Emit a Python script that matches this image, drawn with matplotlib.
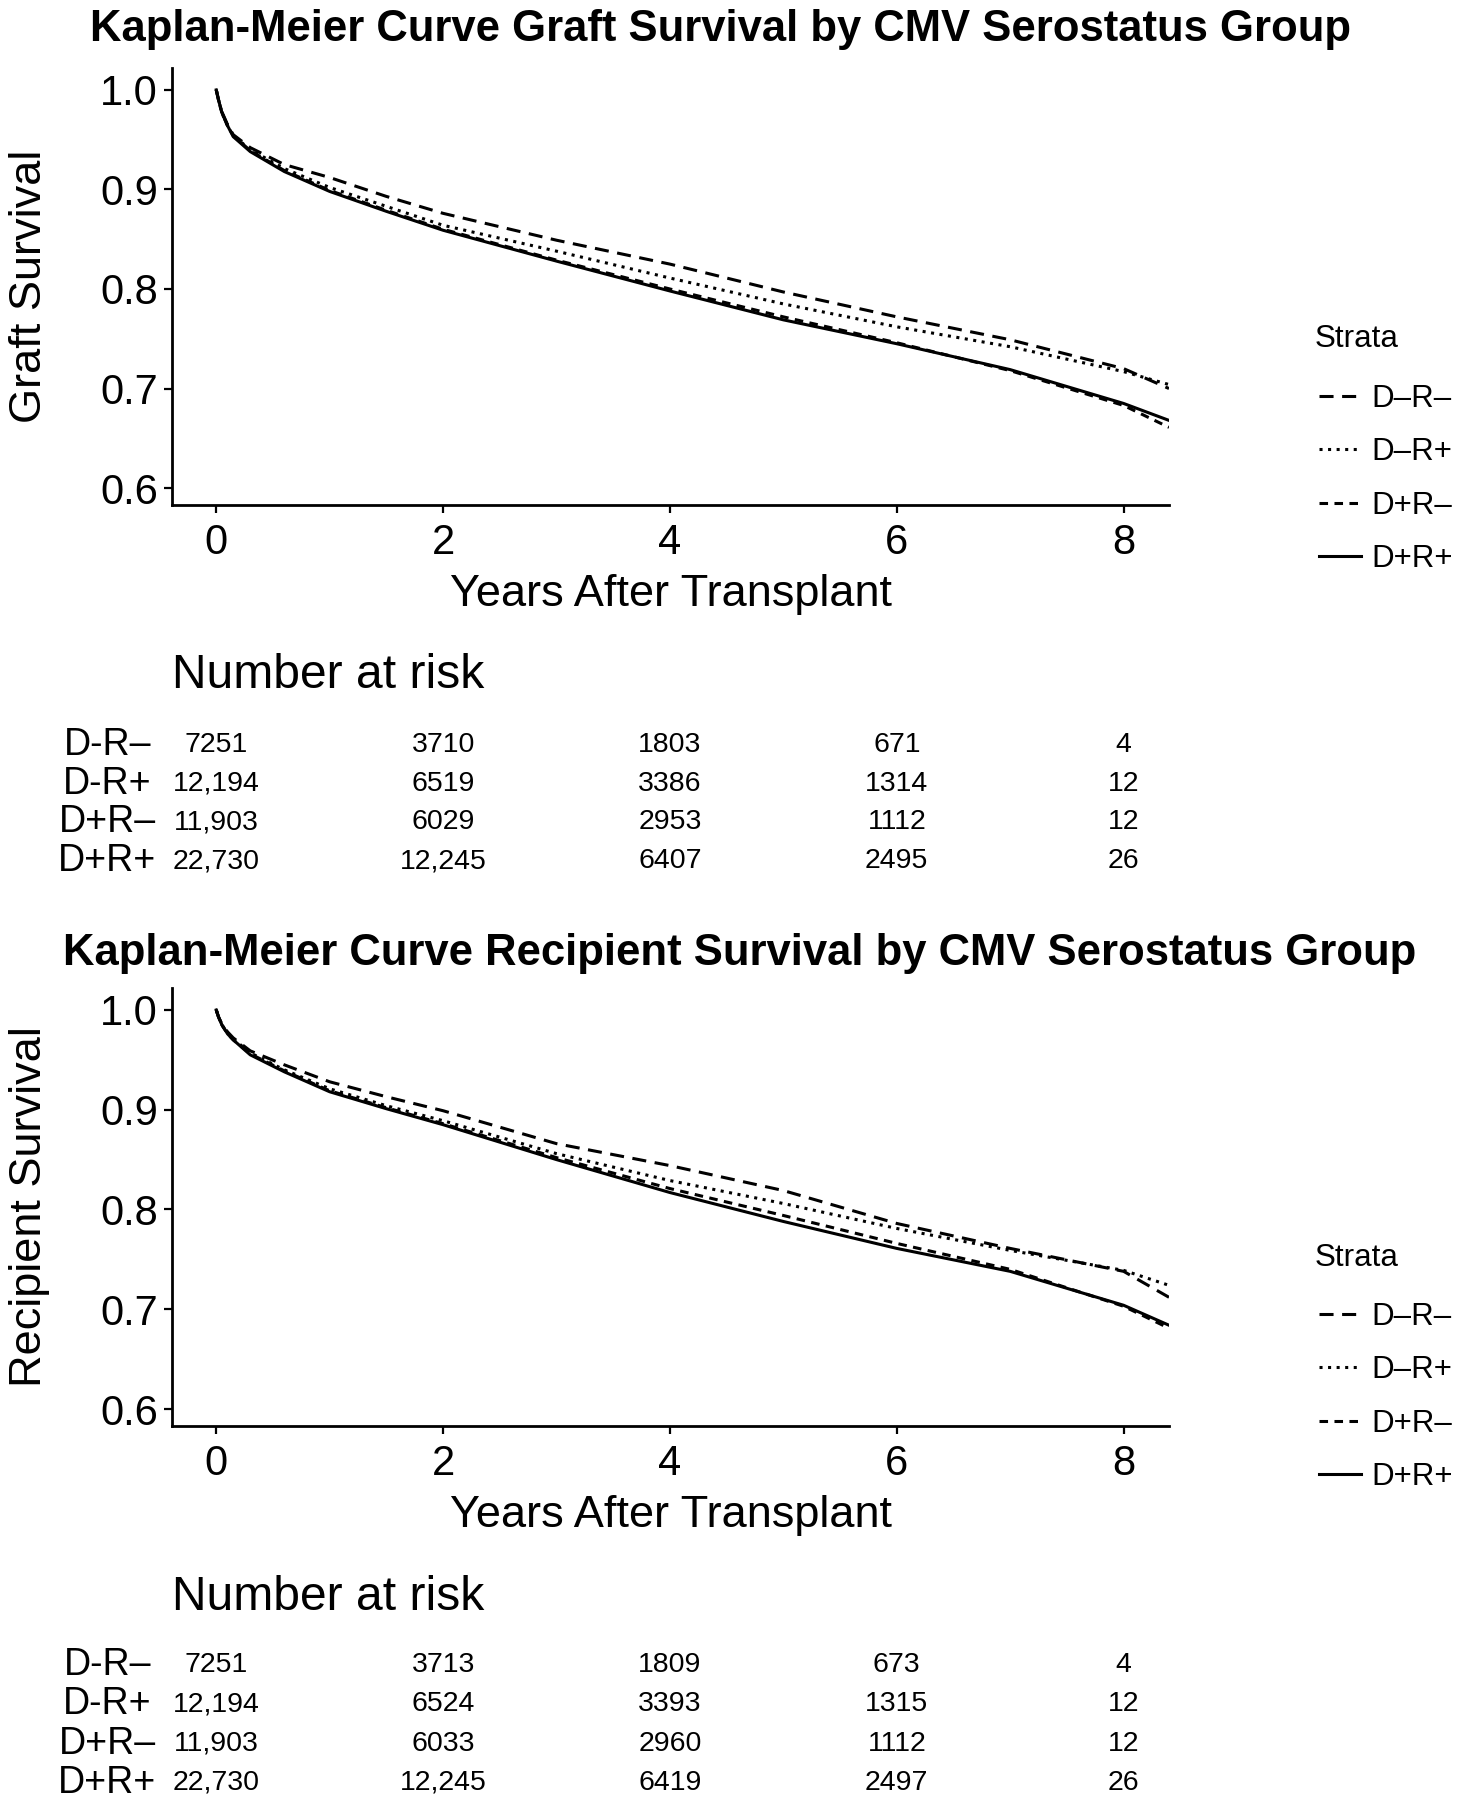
import matplotlib
matplotlib.use("Agg")
import matplotlib.pyplot as plt

REG = ['Liberation Sans', 'DejaVu Sans']
plt.rcParams['font.family'] = REG

# ---------------- data ----------------
strata = ["D–R–", "D–R+", "D+R–", "D+R+"]
table_labels = ["D-R–", "D-R+", "D+R–", "D+R+"]
risk_times = [0, 2, 4, 6, 8]

graft_t = [0, 0.02, 0.05, 0.1, 0.15, 0.3, 0.6, 1.0, 1.5, 2.0, 3.0, 4.0, 5.0, 6.0, 7.0, 8.0, 8.4]
graft_dmrm = [1.0, 0.990, 0.978, 0.965, 0.955, 0.942, 0.925, 0.912, 0.893, 0.876, 0.849, 0.825, 0.797, 0.772, 0.749, 0.720, 0.700]
graft_dmrp = [1.0, 0.990, 0.977, 0.964, 0.954, 0.940, 0.921, 0.902, 0.883, 0.864, 0.838, 0.811, 0.785, 0.762, 0.742, 0.717, 0.704]
graft_dprm = [1.0, 0.990, 0.977, 0.964, 0.954, 0.939, 0.919, 0.899, 0.879, 0.860, 0.829, 0.800, 0.772, 0.746, 0.718, 0.683, 0.661]
graft_dprp = [1.0, 0.990, 0.977, 0.964, 0.953, 0.938, 0.918, 0.898, 0.878, 0.859, 0.828, 0.798, 0.769, 0.745, 0.719, 0.685, 0.668]

recip_t = [0, 0.02, 0.05, 0.1, 0.15, 0.3, 0.6, 1.0, 1.5, 2.0, 3.0, 4.0, 5.0, 6.0, 7.0, 8.0, 8.4]
recip_dmrm = [1.0, 0.993, 0.986, 0.978, 0.972, 0.959, 0.945, 0.928, 0.913, 0.899, 0.866, 0.844, 0.819, 0.786, 0.761, 0.738, 0.712]
recip_dmrp = [1.0, 0.993, 0.985, 0.977, 0.971, 0.957, 0.940, 0.921, 0.904, 0.889, 0.856, 0.829, 0.806, 0.781, 0.759, 0.739, 0.724]
recip_dprm = [1.0, 0.993, 0.985, 0.976, 0.970, 0.956, 0.939, 0.919, 0.902, 0.886, 0.852, 0.821, 0.794, 0.766, 0.740, 0.703, 0.681]
recip_dprp = [1.0, 0.993, 0.985, 0.976, 0.970, 0.955, 0.938, 0.918, 0.901, 0.885, 0.850, 0.817, 0.788, 0.761, 0.738, 0.704, 0.684]

graft_risk_dmrm = ["7251", "3710", "1803", "671", "4"]
graft_risk_dmrp = ["12,194", "6519", "3386", "1314", "12"]
graft_risk_dprm = ["11,903", "6029", "2953", "1112", "12"]
graft_risk_dprp = ["22,730", "12,245", "6407", "2495", "26"]

recip_risk_dmrm = ["7251", "3713", "1809", "673", "4"]
recip_risk_dmrp = ["12,194", "6524", "3393", "1315", "12"]
recip_risk_dprm = ["11,903", "6033", "2960", "1112", "12"]
recip_risk_dprp = ["22,730", "12,245", "6419", "2497", "26"]

yticks = [0.6, 0.7, 0.8, 0.9, 1.0]
xticks = [0, 2, 4, 6, 8]

# ---------------- styles ----------------
LW = 2.2
styles = [
    dict(linestyle=(0, (4.6, 2.8))),
    dict(linestyle=(0, (1.0, 1.8))),
    dict(linestyle=(0, (2.8, 2.1))),
    dict(linestyle='-'),
]

W, H = 1465, 1800
fig = plt.figure(figsize=(W / 100, H / 100), dpi=100)


def fx(px):
    return px / W


def fy(py):
    return 1 - py / H


def make_panel(top_px, bottom_px, t, series, title, title_x, title_y, ylabel,
               ylabel_y, strata_y, legend_mid, risk_rows, risk_title_y, row0, rowstep):
    left, right = 172, 1169
    ax = fig.add_axes([fx(left), fy(bottom_px), fx(right - left), (bottom_px - top_px) / H])
    handles = []
    for s, st, lab in zip(series, styles, strata):
        ln, = ax.plot(t, s, color='black', lw=LW, label=lab, **st)
        handles.append(ln)
    ax.set_xlim(-0.39, 8.40)
    ax.set_ylim(0.583, 1.022)
    ax.set_xticks(xticks)
    ax.set_yticks(yticks)
    ax.set_yticklabels([f"{v:.1f}" for v in yticks])
    for sp in ['top', 'right']:
        ax.spines[sp].set_visible(False)
    for sp in ['left', 'bottom']:
        ax.spines[sp].set_linewidth(2.0)
    ax.tick_params(axis='both', length=6, width=1.6, labelsize=30, colors='black')
    ax.tick_params(axis='x', pad=7)
    ax.tick_params(axis='y', pad=4)
    ax.text(0.5, -0.205, "Years After Transplant", transform=ax.transAxes,
            ha='center', va='center', fontsize=32.5)
    fig.text(fx(30), fy(ylabel_y), ylabel, rotation=90, ha='center', va='center',
             fontsize=32.5)
    fig.text(fx(title_x), fy(title_y), title, ha='center', va='center',
             fontsize=31.4, fontweight='bold')
    fig.text(fx(1315), fy(strata_y), "Strata", ha='left', va='center', fontsize=22.6)
    ax.legend(handles=handles, labels=strata, frameon=False,
              loc='center left', bbox_to_anchor=(fx(1306), fy(legend_mid)),
              bbox_transform=fig.transFigure, handlelength=1.36,
              handletextpad=0.33, labelspacing=0.75, borderaxespad=0,
              prop=dict(size=22.5))

    # risk table
    tab_top = row0 - 22
    tab_bot = row0 + 3 * rowstep + 22
    axt = fig.add_axes([fx(left), fy(tab_bot), fx(right - left), (tab_bot - tab_top) / H])
    axt.set_xlim(-0.39, 8.40)
    axt.set_ylim(3 + 22 / rowstep, -22 / rowstep)
    axt.axis('off')
    fig.text(fx(172), fy(risk_title_y), "Number at risk", ha='left', va='center', fontsize=34.6)
    for i, (lab, row) in enumerate(zip(table_labels, risk_rows)):
        axt.text(-0.065, i, lab, transform=axt.get_yaxis_transform(), ha='center',
                 va='center', fontsize=27)
        for tt, val in zip(risk_times, row):
            axt.text(tt, i, val, ha='center', va='center', fontsize=20.5)
    return ax


make_panel(68, 505, graft_t, [graft_dmrm, graft_dmrp, graft_dprm, graft_dprp],
           "Kaplan-Meier Curve Graft Survival by CMV Serostatus Group", 721, 29,
           "Graft Survival", 286, 339, 479,
           [graft_risk_dmrm, graft_risk_dmrp, graft_risk_dprm, graft_risk_dprp],
           676, 745, 38.7)

make_panel(988, 1426, recip_t, [recip_dmrm, recip_dmrp, recip_dprm, recip_dprp],
           "Kaplan-Meier Curve Recipient Survival by CMV Serostatus Group", 740, 954,
           "Recipient Survival", 1207, 1258, 1397,
           [recip_risk_dmrm, recip_risk_dmrp, recip_risk_dprm, recip_risk_dprp],
           1597, 1665, 39.3)

fig.savefig("out.png", dpi=100, facecolor='white')
